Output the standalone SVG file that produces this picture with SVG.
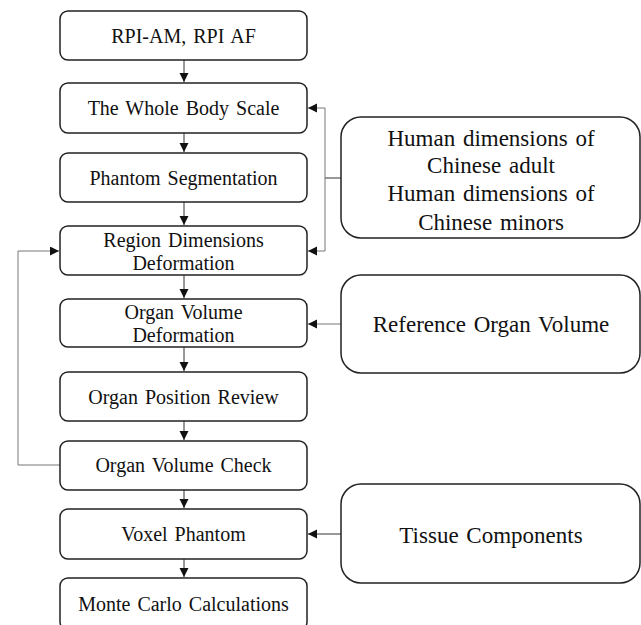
<svg xmlns="http://www.w3.org/2000/svg" width="641" height="625" viewBox="0 0 641 625">
<style>
.box{fill:#fff;stroke:#222;stroke-width:1.5}
.lt{font-family:"Liberation Serif","Times New Roman",serif;font-size:20px;fill:#111;text-anchor:middle;word-spacing:2px}
.rt{font-family:"Liberation Serif","Times New Roman",serif;font-size:23px;fill:#111;text-anchor:middle;word-spacing:2px}
.c{fill:none;stroke:#333;stroke-width:1}
.g{fill:none;stroke:#777;stroke-width:1}
</style>
<defs>
<marker id="ah" markerWidth="10" markerHeight="10" refX="9" refY="4.5" orient="auto" markerUnits="userSpaceOnUse">
<path d="M0,0 L9,4.5 L0,9 Z" fill="#111"/>
</marker>
</defs>
<rect width="641" height="625" fill="#fff"/>
<g id="connectors">
<line class="c" x1="184" y1="60" x2="184" y2="82" marker-end="url(#ah)"/>
<line class="c" x1="184" y1="133" x2="184" y2="152" marker-end="url(#ah)"/>
<line class="c" x1="184" y1="202" x2="184" y2="225" marker-end="url(#ah)"/>
<line class="c" x1="184" y1="275" x2="184" y2="298" marker-end="url(#ah)"/>
<line class="c" x1="184" y1="347" x2="184" y2="371" marker-end="url(#ah)"/>
<line class="c" x1="184" y1="421" x2="184" y2="440" marker-end="url(#ah)"/>
<line class="c" x1="184" y1="490" x2="184" y2="508" marker-end="url(#ah)"/>
<line class="c" x1="184" y1="559" x2="184" y2="577" marker-end="url(#ah)"/>
<polyline class="c" points="341,178 325,178"/>
<polyline class="g" points="325,178 325,108 308,108" marker-end="url(#ah)"/>
<polyline class="g" points="325,178 325,251 308,251" marker-end="url(#ah)"/>
<line class="g" x1="341" y1="324" x2="308" y2="324" marker-end="url(#ah)"/>
<line class="c" x1="341" y1="534" x2="308" y2="534" marker-end="url(#ah)"/>
<polyline class="g" points="60,465 18,465 18,251 59,251" marker-end="url(#ah)"/>
</g>
<g id="n1"><rect class="box" x="60" y="11" width="247" height="49" rx="8"/><text class="lt" x="183.5" y="43">RPI-AM, RPI AF</text></g>
<g id="n2"><rect class="box" x="60" y="83" width="247" height="50" rx="8"/><text class="lt" x="183.5" y="115">The Whole Body Scale</text></g>
<g id="n3"><rect class="box" x="60" y="153" width="247" height="49" rx="8"/><text class="lt" x="183.5" y="185">Phantom Segmentation</text></g>
<g id="n4"><rect class="box" x="60" y="226" width="247" height="49" rx="8"/><text class="lt" x="183.5" y="247">Region Dimensions</text><text class="lt" x="183.5" y="270">Deformation</text></g>
<g id="n5"><rect class="box" x="60" y="299" width="247" height="48" rx="8"/><text class="lt" x="183.5" y="319">Organ Volume</text><text class="lt" x="183.5" y="342">Deformation</text></g>
<g id="n6"><rect class="box" x="60" y="372" width="247" height="49" rx="8"/><text class="lt" x="183.5" y="404">Organ Position Review</text></g>
<g id="n7"><rect class="box" x="60" y="441" width="247" height="49" rx="8"/><text class="lt" x="183.5" y="472">Organ Volume Check</text></g>
<g id="n8"><rect class="box" x="60" y="509" width="247" height="50" rx="8"/><text class="lt" x="183.5" y="541">Voxel Phantom</text></g>
<g id="n9"><rect class="box" x="60" y="578" width="247" height="52" rx="8"/><text class="lt" x="183.5" y="611">Monte Carlo Calculations</text></g>
<g id="nA"><rect class="box" x="341" y="117" width="299" height="121" rx="20"/>
<text class="rt" x="491" y="146">Human dimensions of</text>
<text class="rt" x="491" y="173">Chinese adult</text>
<text class="rt" x="491" y="201">Human dimensions of</text>
<text class="rt" x="491" y="230">Chinese minors</text></g>
<g id="nB"><rect class="box" x="341" y="275" width="299" height="98" rx="20"/><text class="rt" x="491" y="332">Reference Organ Volume</text></g>
<g id="nC"><rect class="box" x="341" y="484" width="299" height="99" rx="20"/><text class="rt" x="491" y="543">Tissue Components</text></g>
</svg>
